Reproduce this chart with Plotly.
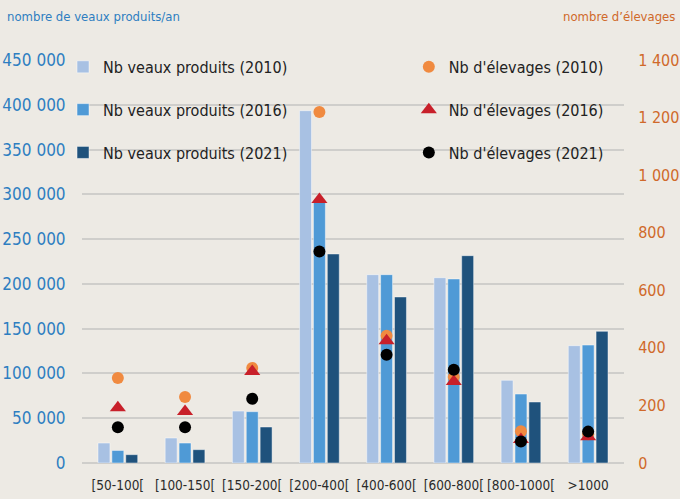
import plotly.graph_objects as go

# catégories (taille d'élevage)
categories = ["[50-100[", "[100-150[", "[150-200[", "[200-400[",
              "[400-600[", "[600-800[", "[800-1000[", ">1000"]

# nombre de veaux produits par an
veaux_2010 = [22300, 27900, 58000, 393400, 210300, 206900, 92300, 131000]
veaux_2016 = [14000, 22300, 57300, 292900, 210300, 205500, 77000, 131700]
veaux_2021 = [9300, 14900, 40200, 233400, 185400, 231500, 68100, 147000]

# nombre d'élevages
elev_2010 = [295, 229, 330, 1219, 442, 299, 110, 100]
elev_2016 = [192, 179, 318, 915, 425, 283, 82, 91]
elev_2021 = [124, 124, 223, 735, 376, 324, 75, 109]

left_ticks = [0, 50000, 100000, 150000, 200000, 250000, 300000, 350000, 400000, 450000]
right_ticks = [0, 200, 400, 600, 800, 1000, 1200, 1400]

BG = "#EDEAE4"
BLUE_TXT = "#2E7EC1"
ORANGE_TXT = "#D0692A"
GRID = "#CFCECB"
FONT = "DejaVu Sans Condensed, Liberation Sans Narrow, sans-serif"

fig = go.Figure()

bar_styles = [("Nb veaux produits (2010)", veaux_2010, "#A8C1E3"),
              ("Nb veaux produits (2016)", veaux_2016, "#4F9AD6"),
              ("Nb veaux produits (2021)", veaux_2021, "#1F527C")]
for i, (name, vals, col) in enumerate(bar_styles):
    fig.add_trace(go.Bar(
        x=categories, y=vals, name=name,
        marker=dict(color=col, line=dict(color="rgba(255,255,255,0.45)", width=1)),
        legend="legend", legendgroup=f"b{i}"
    ))

mk_styles = [("Nb d'élevages (2010)", elev_2010, "#F08A40", "circle", 12),
             ("Nb d'élevages (2016)", elev_2016, "#C8202A", "triangle-up", 14),
             ("Nb d'élevages (2021)", elev_2021, "#000000", "circle", 12)]
for i, (name, vals, col, sym, sz) in enumerate(mk_styles):
    fig.add_trace(go.Scatter(
        x=categories, y=vals, name=name, mode="markers", yaxis="y2",
        marker=dict(color=col, symbol=sym, size=sz),
        legend="legend2", legendgroup=f"m{i}"
    ))

fig.update_layout(
    width=680, height=499,
    paper_bgcolor=BG, plot_bgcolor=BG,
    margin=dict(l=82, r=56, t=60, b=36),
    font=dict(family=FONT, size=16, color="#2B2B2B"),
    separators=", ",
    barmode="group", bargap=0.38, bargroupgap=0.14,
    xaxis=dict(
        showgrid=False, showline=False, zeroline=False, automargin=False,
        tickangle=0, tickfont=dict(size=13.5, color="#2B2B2B"),
        ticks="outside", ticklen=10, tickcolor="rgba(0,0,0,0)"
    ),
    yaxis=dict(
        range=[0, 450000], tickvals=left_ticks, tickformat=",d", automargin=False,
        showgrid=True, gridcolor=GRID, gridwidth=2,
        zeroline=True, zerolinecolor=GRID, zerolinewidth=2,
        tickfont=dict(size=17, color=BLUE_TXT),
        ticks="outside", ticklen=12, tickcolor="rgba(0,0,0,0)"
    ),
    yaxis2=dict(
        range=[0, 1400], tickvals=right_ticks, tickformat=",d", automargin=False,
        overlaying="y", side="right", showgrid=False, zeroline=False,
        tickfont=dict(size=16, color=ORANGE_TXT),
        ticks="outside", ticklen=10, tickcolor="rgba(0,0,0,0)"
    ),
    legend=dict(
        x=-0.035, y=1.025, xanchor="left", yanchor="top",
        bgcolor="rgba(0,0,0,0)", tracegroupgap=19,
        font=dict(size=16, color="#222222"), itemwidth=30
    ),
    legend2=dict(
        x=0.603, y=1.025, xanchor="left", yanchor="top",
        bgcolor="rgba(0,0,0,0)", tracegroupgap=19,
        font=dict(size=16, color="#222222"), itemwidth=30
    ),
    showlegend=True,
)

# titres des axes
fig.add_annotation(text="nombre de veaux produits/an", xref="paper", yref="paper",
                   x=-0.142, y=1.107, xanchor="left", yanchor="middle", showarrow=False,
                   font=dict(size=13, color=BLUE_TXT))
fig.add_annotation(text="nombre d’élevages", xref="paper", yref="paper",
                   x=1.098, y=1.107, xanchor="right", yanchor="middle", showarrow=False,
                   font=dict(size=13, color=ORANGE_TXT))

# la page par défaut garde une marge de 8 px autour du graphique
fig.write_html("out.html", config={"displayModeBar": False},
               post_script="document.body.style.margin='0px';")
